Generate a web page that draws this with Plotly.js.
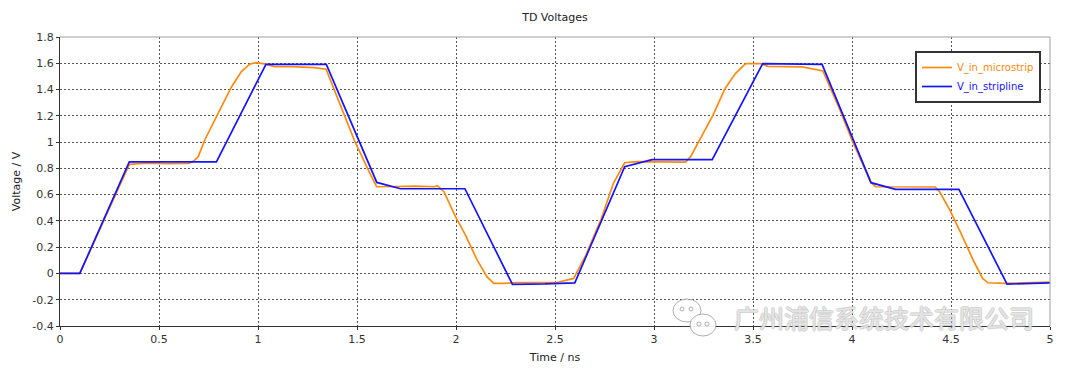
<!DOCTYPE html>
<html>
<head>
<meta charset="utf-8">
<script src="https://cdn.plot.ly/plotly-3.0.1.min.js"></script>
<style>
  html, body { margin: 0; padding: 0; background: #fff; }
  #chart { width: 1080px; height: 369px; }
</style>
</head>
<body>
<div id="chart"></div>
<script>
// ---- Data ----
const time_microstrip = [0, 0.1, 0.35, 0.43, 0.55, 0.65, 0.675, 0.698, 0.731, 0.79, 0.866, 0.916, 0.958, 0.991, 1.033, 1.084, 1.168, 1.285, 1.344, 1.419, 1.486, 1.553, 1.599, 1.7, 1.797, 1.889, 1.906, 1.939, 1.998, 2.048, 2.107, 2.157, 2.191, 2.241, 2.308, 2.51, 2.594, 2.656, 2.734, 2.795, 2.852, 2.916, 3.072, 3.159, 3.185, 3.229, 3.298, 3.359, 3.411, 3.463, 3.541, 3.575, 3.749, 3.853, 3.94, 4.0, 4.052, 4.096, 4.12, 4.3, 4.42, 4.443, 4.495, 4.547, 4.616, 4.66, 4.686, 4.772, 4.859, 5.0];
const v_in_microstrip = [0, 0, 0.83, 0.84, 0.835, 0.838, 0.855, 0.889, 1.016, 1.19, 1.42, 1.537, 1.593, 1.605, 1.595, 1.575, 1.575, 1.567, 1.555, 1.27, 1.016, 0.8, 0.66, 0.662, 0.665, 0.66, 0.668, 0.622, 0.431, 0.292, 0.101, -0.026, -0.076, -0.076, -0.069, -0.069, -0.038, 0.139, 0.418, 0.686, 0.843, 0.851, 0.848, 0.848, 0.889, 1.015, 1.205, 1.408, 1.522, 1.597, 1.597, 1.577, 1.572, 1.542, 1.243, 1.015, 0.838, 0.691, 0.66, 0.66, 0.658, 0.62, 0.481, 0.316, 0.089, -0.038, -0.071, -0.076, -0.071, -0.066];

const time_stripline = [0, 0.1, 0.35, 0.79, 1.04, 1.345, 1.6, 1.72, 2.045, 2.285, 2.45, 2.6, 2.852, 2.99, 3.294, 3.549, 3.849, 4.096, 4.22, 4.54, 4.783, 4.9, 5.0];
const v_in_stripline = [0, 0, 0.85, 0.85, 1.592, 1.592, 0.693, 0.645, 0.645, -0.083, -0.08, -0.072, 0.813, 0.866, 0.866, 1.597, 1.592, 0.691, 0.64, 0.64, -0.081, -0.078, -0.071];

const x_tick_values = [0, 0.5, 1, 1.5, 2, 2.5, 3, 3.5, 4, 4.5, 5];
const x_tick_labels = ["0", "0.5", "1", "1.5", "2", "2.5", "3", "3.5", "4", "4.5", "5"];
const y_tick_values = [-0.4, -0.2, 0, 0.2, 0.4, 0.6, 0.8, 1, 1.2, 1.4, 1.6, 1.8];
const y_tick_labels = ["-0.4", "-0.2", "0", "0.2", "0.4", "0.6", "0.8", "1", "1.2", "1.4", "1.6", "1.8"];

const series_names = ["V_in_microstrip", "V_in_stripline"];
const watermark_text = "广州浦信系统技术有限公司";

// ---- Styles ----
const ORANGE = "#ff8a0f";
const BLUE = "#1414ff";
const FONT = "DejaVu Sans, Verdana, sans-serif";

const traces = [
  {
    x: time_microstrip, y: v_in_microstrip, type: "scatter", mode: "lines",
    name: '<span style="color:' + ORANGE + '">' + series_names[0] + '</span>',
    line: { color: ORANGE, width: 1.7 }
  },
  {
    x: time_stripline, y: v_in_stripline, type: "scatter", mode: "lines",
    name: '<span style="color:' + BLUE + '">' + series_names[1] + '</span>',
    line: { color: BLUE, width: 1.7 }
  }
];

// plot area in pixels: x 60..1050, y 37..326
const L = 60, R = 30, T = 37, B = 43;
const PW = 1080 - L - R, PH = 369 - T - B;
function px(x) { return (x - L) / PW; }
function py(y) { return (369 - B - y) / PH; }

const wmGray = "rgba(160,160,160,0.85)";
const shapes = [
  { type: "line", xref: "paper", yref: "paper", x0: 0, x1: 1, y0: 1, y1: 1, line: { color: "#a0a0a0", width: 1 } },
  { type: "line", xref: "paper", yref: "paper", x0: 1, x1: 1, y0: 0, y1: 1, line: { color: "#a0a0a0", width: 1 } },
  // WeChat-like watermark icon
  { type: "circle", xref: "paper", yref: "paper", x0: px(673), x1: px(701), y0: py(322), y1: py(299), line: { color: wmGray, width: 1 }, fillcolor: "rgba(255,255,255,0.6)", layer: "above" },
  { type: "circle", xref: "paper", yref: "paper", x0: px(690), x1: px(716), y0: py(336), y1: py(314), line: { color: wmGray, width: 1 }, fillcolor: "rgba(255,255,255,0.9)", layer: "above" },
  { type: "circle", xref: "paper", yref: "paper", x0: px(680), x1: px(684), y0: py(311), y1: py(307), line: { color: wmGray, width: 1 }, layer: "above" },
  { type: "circle", xref: "paper", yref: "paper", x0: px(689), x1: px(693), y0: py(311), y1: py(307), line: { color: wmGray, width: 1 }, layer: "above" },
  { type: "circle", xref: "paper", yref: "paper", x0: px(697), x1: px(701), y0: py(326), y1: py(322), line: { color: wmGray, width: 1 }, layer: "above" },
  { type: "circle", xref: "paper", yref: "paper", x0: px(705), x1: px(709), y0: py(326), y1: py(322), line: { color: wmGray, width: 1 }, layer: "above" }
];

const layout = {
  width: 1080, height: 369,
  margin: { l: L, r: R, t: T, b: B, pad: 0 },
  paper_bgcolor: "#ffffff", plot_bgcolor: "#ffffff",
  font: { family: FONT, size: 11, color: "#333" },
  title: {
    text: "TD Voltages", font: { family: FONT, size: 11, color: "#222" },
    x: 0.5, xref: "paper", xanchor: "center", y: 1 - 17 / 369, yref: "container", yanchor: "middle"
  },
  xaxis: {
    range: [0, 5], tickmode: "array", tickvals: x_tick_values, ticktext: x_tick_labels,
    showgrid: true, gridcolor: "#555", griddash: "2px,2px", gridwidth: 1,
    zeroline: false, showline: true, linecolor: "#333", linewidth: 1,
    ticks: "outside", ticklen: 3, tickcolor: "#333", tickfont: { family: FONT, size: 11, color: "#333" },
    title: { text: "Time / ns", font: { family: FONT, size: 11, color: "#222" }, standoff: 8 },
    fixedrange: true
  },
  yaxis: {
    range: [-0.4, 1.8], tickmode: "array", tickvals: y_tick_values, ticktext: y_tick_labels,
    showgrid: true, gridcolor: "#555", griddash: "2px,2px", gridwidth: 1,
    zeroline: false, showline: true, linecolor: "#333", linewidth: 1,
    ticks: "outside", ticklen: 3, tickcolor: "#333", tickfont: { family: FONT, size: 11, color: "#333" },
    title: { text: "Voltage / V", font: { family: FONT, size: 11, color: "#222" }, standoff: 9 },
    fixedrange: true
  },
  showlegend: true,
  legend: {
    x: px(915), y: py(51), xanchor: "left", yanchor: "top",
    bgcolor: "#ffffff", bordercolor: "#333", borderwidth: 2,
    font: { family: FONT, size: 10 }, itemwidth: 30, tracegroupgap: 0
  },
  shapes: shapes,
  annotations: [
    {
      text: watermark_text, xref: "paper", yref: "paper", x: px(884), y: py(317),
      xanchor: "center", yanchor: "middle", showarrow: false,
      font: { family: "Noto Sans CJK SC", size: 25, color: "rgba(255,255,255,0.6)",
        shadow: "1px 0 0 #bbb, -1px 0 0 #bbb, 0 1px 0 #bbb, 0 -1px 0 #bbb" }
    }
  ]
};

Plotly.newPlot("chart", traces, layout, { staticPlot: true, displayModeBar: false });
</script>
</body>
</html>
